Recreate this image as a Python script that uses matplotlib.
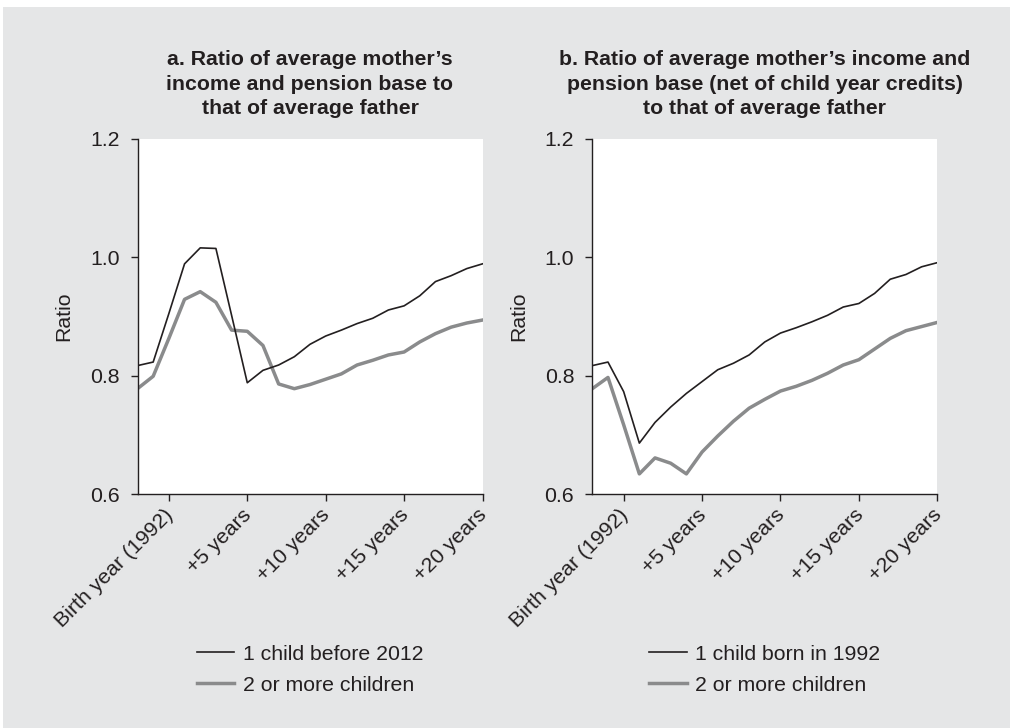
import matplotlib
matplotlib.use("Agg")
import matplotlib.pyplot as plt
from matplotlib.patches import Rectangle
import numpy as np

plt.rcParams['font.family'] = ['Liberation Sans', 'DejaVu Sans']

years = list(range(-2, 21))
tick_pos = [0, 5, 10, 15, 20]
tick_labels = ["Birth year (1992)", "+5 years", "+10 years", "+15 years", "+20 years"]

a_one = [0.817, 0.823, 0.905, 0.989, 1.016, 1.015, 0.902, 0.788, 0.809, 0.818, 0.832,
         0.853, 0.867, 0.877, 0.888, 0.897, 0.911, 0.918, 0.935, 0.959, 0.969, 0.981, 0.989]
a_two = [0.778, 0.799, 0.863, 0.929, 0.942, 0.924, 0.877, 0.875, 0.851, 0.786, 0.778,
         0.785, 0.794, 0.803, 0.818, 0.826, 0.835, 0.840, 0.857, 0.871, 0.882, 0.889, 0.894]
b_one = [0.817, 0.823, 0.773, 0.686, 0.721, 0.747, 0.770, 0.790, 0.810, 0.821, 0.835,
         0.857, 0.872, 0.881, 0.891, 0.902, 0.916, 0.922, 0.939, 0.963, 0.971, 0.984, 0.991]
b_two = [0.778, 0.797, 0.717, 0.634, 0.661, 0.652, 0.634, 0.671, 0.698, 0.723, 0.745,
         0.760, 0.774, 0.782, 0.792, 0.804, 0.818, 0.827, 0.845, 0.863, 0.876, 0.883, 0.890]

titles = ["a. Ratio of average mother\u2019s\nincome and pension base to\nthat of average father",
          "b. Ratio of average mother\u2019s income and\npension base (net of child year credits)\nto that of average father"]
legend_one = ["1 child before 2012", "1 child born in 1992"]
legend_two = "2 or more children"

TXT = "#231f20"
BG = "#e5e6e7"
BLACK = "#231f20"
GRAY = "#8a8b8c"
FS = 15.3

fig = plt.figure(figsize=(10.1, 7.28), dpi=100, facecolor="white")
fig.patches.append(Rectangle((3/1010, 0), 1, 1 - 7/728, transform=fig.transFigure,
                             facecolor=BG, edgecolor="none", zorder=-10))

lefts = [137.5/1010, 592.3/1010]
series = [(a_one, a_two), (b_one, b_two)]
for i in range(2):
    ax = fig.add_axes([lefts[i], 1 - 494/728, 345/1010, 355/728])
    ax.set_facecolor("white")
    one, two = series[i]
    ax.plot(years, two, color=GRAY, lw=2.5, label=legend_two, zorder=2)
    ax.plot(years, one, color=BLACK, lw=1.2, label=legend_one[i], zorder=3)
    ax.set_xlim(-2, 20)
    ax.set_ylim(0.6, 1.2)
    ax.set_yticks([0.6, 0.8, 1.0, 1.2])
    ax.set_yticklabels(["0.6", "0.8", "1.0", "1.2"])
    ax.set_xticks(tick_pos)
    ax.set_xticklabels(tick_labels, rotation=45, ha="right", va="center_baseline",
                       rotation_mode="anchor")
    for s in ["top", "right"]:
        ax.spines[s].set_visible(False)
    for s in ["left", "bottom"]:
        ax.spines[s].set_color(TXT)
        ax.spines[s].set_linewidth(1.0)
    ax.tick_params(axis="both", colors=TXT, labelsize=FS, length=5, width=1.0, pad=8)
    ax.tick_params(axis="x", pad=7)
    ax.set_ylabel("Ratio", fontsize=FS, color=TXT, labelpad=12)
    ax.set_title(titles[i], fontsize=FS, fontweight="bold", color=TXT, pad=18,
                 linespacing=1.36)
    h, l = ax.get_legend_handles_labels()
    leg = ax.legend(h[::-1], l[::-1], loc="center", bbox_to_anchor=(0.5, -0.495),
                    frameon=False, fontsize=FS, handlelength=1.75, handletextpad=0.4,
                    labelspacing=0.55, labelcolor=TXT)

fig.savefig("out.png", dpi=100, facecolor=fig.get_facecolor())
